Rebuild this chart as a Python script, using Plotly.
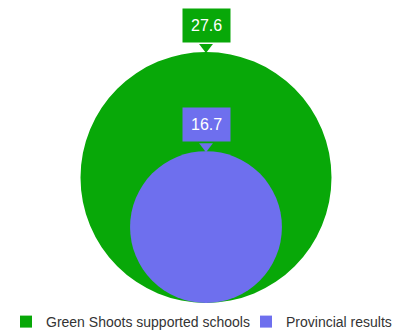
import plotly.graph_objects as go

# data
series = ["Green Shoots supported schools", "Provincial results"]
values = [27.6, 16.7]
colors = ["#08a808", "#6e6fee"]

# page body has an 8px margin, so everything is laid out 8px up/left
W, H = 406, 334
PAD = 14  # extra room above the big circle for its pointer
ML, MR, MT, MB = 0, 10, 44 - PAD, 39
PW = W - ML - MR
PH = H - MT - MB

# equal scaling on both axes
ymax = 2 * max(values)
upp = ymax / (PH - PAD)
xhalf = PW / 2 * upp

fig = go.Figure()

# circles sized by value, all sitting on the same baseline
shapes = []
for val, col in zip(values, colors):
    shapes.append(dict(type="circle", xref="x", yref="y",
                       x0=-val, x1=val, y0=0, y1=2 * val,
                       fillcolor=col, line=dict(width=0), layer="below"))

# callout pointers just above the top of each circle
fig.add_trace(go.Scatter(x=[0] * len(values), y=[2 * v + 5 * upp for v in values],
                         mode="markers", showlegend=False, hoverinfo="skip", cliponaxis=False,
                         marker=dict(symbol="triangle-down", size=12, color=colors)))

# legend-only markers, one legend each so they can be placed
legend_px = [-2, 238]
for i, (name, col) in enumerate(zip(series, colors)):
    lg = "legend" if i == 0 else "legend2"
    fig.add_trace(go.Scatter(x=[None], y=[None], mode="markers", name=name,
                             marker=dict(symbol="square", size=12, color=col),
                             legend=lg, showlegend=True))

annots = []
for val, col in zip(values, colors):
    annots.append(dict(x=0, y=2 * val, xref="x", yref="y", text=f"{val}",
                       showarrow=False, yanchor="bottom", yshift=9,
                       bgcolor=col, borderpad=8,
                       font=dict(family="Liberation Sans", size=16, color="white")))

leg_style = dict(orientation="h", yanchor="top", y=-3 / PH, xanchor="left",
                 font=dict(family="Liberation Sans", size=14, color="#333333"),
                 bgcolor="rgba(0,0,0,0)")

fig.update_layout(
    width=W, height=H,
    margin=dict(l=ML, r=MR, t=MT, b=MB, autoexpand=False),
    paper_bgcolor="white", plot_bgcolor="white",
    shapes=shapes, annotations=annots,
    xaxis=dict(range=[-xhalf, xhalf], visible=False, fixedrange=True),
    yaxis=dict(range=[0, ymax + PAD * upp], visible=False, fixedrange=True),
    legend=dict(x=(legend_px[0] - ML) / PW, **leg_style),
    legend2=dict(x=(legend_px[1] - ML) / PW, **leg_style),
)

fig.write_html("out.html")
